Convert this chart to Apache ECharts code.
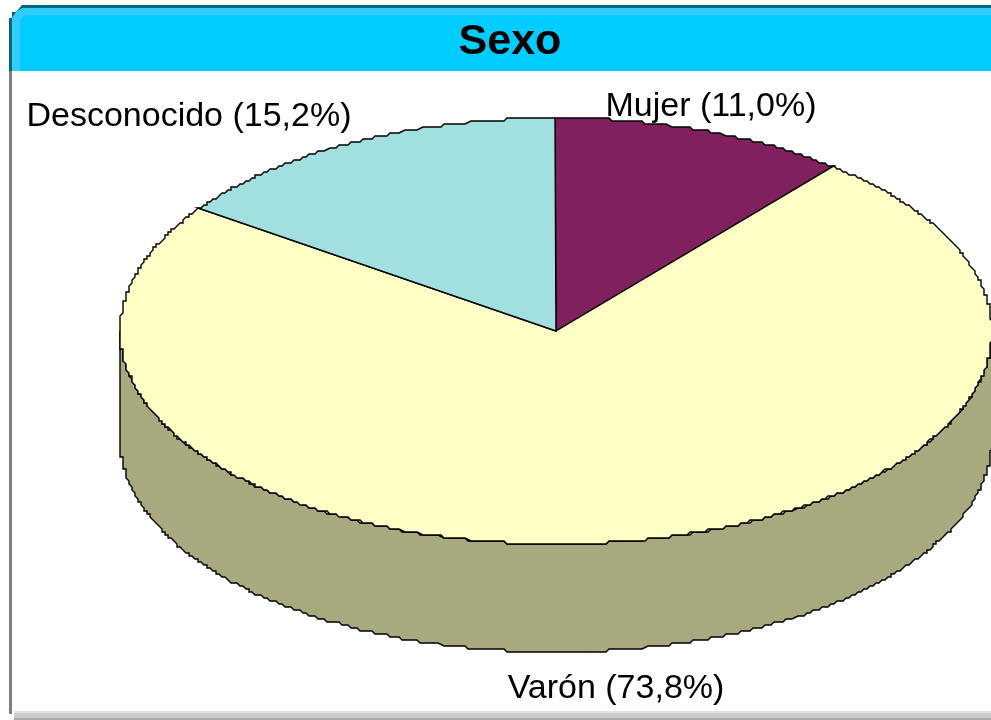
<!DOCTYPE html>
<html>
<head>
<meta charset="utf-8">
<style>html,body{margin:0;padding:0;background:#fff}#chart{width:991px;height:720px}</style>
<script src="https://cdn.jsdelivr.net/npm/echarts@6/dist/echarts.min.js"></script>
</head>
<body>
<div id="chart"></div>
<script>
// datos, en sentido horario desde las 12
var categories = ['Mujer', 'Varón', 'Desconocido']
var shares = [11.0, 73.8, 15.2]

var sliceColors = ['#80205f', '#ffffc6', '#a2e0e0']
var wallColors = ['#5a1643', '#a9a97f', '#71a0a0']
var labelPos = [[711, 107], [616, 689], [189, 117]]

var cx = 556, cy = 331, rx = 436, ry = 213, depth = 108
var startAngle = -0.2
var FONT = '"Liberation Sans", Arial, sans-serif'
var total = shares.reduce(function (a, b) { return a + b }, 0)

// el original tiene los bordes escalonados
function snapX(v) {
  return Math.round(v / 3) * 3
}
function snapY(v) {
  return Math.round((v - 1) / 3) * 3 + 1
}

function rimPoint(deg, dy) {
  var a = deg * Math.PI / 180
  return [snapX(cx + rx * Math.sin(a)), snapY(cy - ry * Math.cos(a)) + dy]
}

function arcPoints(from, to, dy) {
  var pts = []
  for (var d = from; d < to; d += 0.5) {
    pts.push(rimPoint(d, dy))
  }
  pts.push(rimPoint(to, dy))
  return pts
}

function renderSlice(params, api) {
  var i = params.dataIndex
  var start = startAngle
  for (var k = 0; k < i; k++) {
    start += shares[k] / total * 360
  }
  var end = start + api.value(0) / total * 360
  var children = []

  // pared lateral: solo la parte delantera (90..270 grados)
  var wallFrom = Math.max(start, 90)
  var wallTo = Math.min(end, 270)
  if (wallTo > wallFrom) {
    var top = arcPoints(wallFrom, wallTo, 0)
    var bottom = arcPoints(wallFrom, wallTo, depth).reverse()
    children.push({
      type: 'polygon',
      shape: { points: top.concat(bottom) },
      style: { fill: wallColors[i], stroke: '#000', lineWidth: 1.4 }
    })
  }

  children.push({
    type: 'polygon',
    shape: { points: [[cx, cy]].concat(arcPoints(start, end, 0)) },
    style: { fill: sliceColors[i], stroke: '#000', lineWidth: 1.4 }
  })

  children.push({
    type: 'text',
    z2: 10,
    style: {
      x: labelPos[i][0],
      y: labelPos[i][1],
      text: categories[i] + ' (' + shares[i].toFixed(1).replace('.', ',') + '%)',
      font: '34px ' + FONT,
      fill: '#000',
      align: 'center',
      verticalAlign: 'middle'
    }
  })
  return { type: 'group', children: children }
}

var chart = echarts.init(document.getElementById('chart'), null, { renderer: 'canvas' })
chart.setOption({
  animation: false,
  backgroundColor: '#fff',
  title: {
    text: 'Sexo',
    left: 505,
    top: 16,
    textAlign: 'center',
    textStyle: { fontFamily: FONT, fontSize: 43, fontWeight: 'bold', color: '#000' }
  },
  graphic: [
    // marco
    { type: 'rect', z: -5, shape: { x: 9, y: 68, width: 3, height: 646 }, style: { fill: '#808080' } },
    { type: 'rect', z: -5, shape: { x: 14, y: 711, width: 977, height: 3 }, style: { fill: '#e2e2e2' } },
    { type: 'rect', z: -5, shape: { x: 14, y: 713, width: 977, height: 5 }, style: { fill: '#cccccc' } },
    { type: 'rect', z: -5, shape: { x: 14, y: 718, width: 977, height: 2 }, style: { fill: '#a9a9a9' } },
    // cabecera
    {
      type: 'polygon', z: -5,
      shape: { points: [[9, 71], [9, 18], [12, 18], [12, 12], [16, 12], [22, 5], [991, 5], [991, 71]] },
      style: { fill: '#00667f' }
    },
    {
      type: 'polygon', z: -4,
      shape: { points: [[12, 71], [12, 18], [16, 12], [22, 8], [991, 8], [991, 71]] },
      style: { fill: '#33ccff' }
    },
    {
      type: 'polygon', z: -3,
      shape: { points: [[20, 71], [20, 20], [25, 15], [991, 15], [991, 71]] },
      style: { fill: '#00ccff' }
    }
  ],
  series: [{
    type: 'custom',
    coordinateSystem: 'none',
    data: shares,
    renderItem: renderSlice,
    silent: true,
    clip: false
  }]
})
</script>
</body>
</html>
